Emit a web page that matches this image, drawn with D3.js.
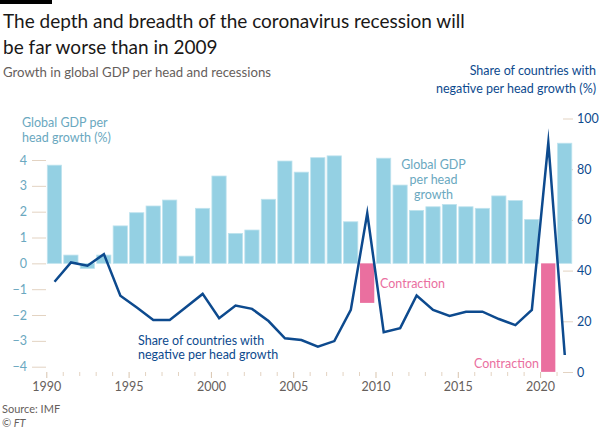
<!DOCTYPE html>
<html>
<head>
<meta charset="utf-8">
<script src="https://cdn.jsdelivr.net/npm/d3@7"></script>
<style>
  html, body { margin: 0; padding: 0; background: #ffffff; }
  svg { display: block; }
  text { font-family: Lato, "Open Sans", sans-serif; }
</style>
</head>
<body>
<svg id="chart" width="600" height="429"></svg>
<script>
// ---- data ----
const years = d3.range(1990, 2022);
const gdpGrowth = [3.8, 0.32, -0.2, 0.32, 1.45, 1.96, 2.22, 2.45, 0.28, 2.13,
                   3.38, 1.16, 1.29, 2.48, 3.96, 3.53, 4.09, 4.16, 1.61, -1.53,
                   4.07, 3.03, 2.05, 2.19, 2.28, 2.19, 2.13, 2.61, 2.43, 1.70,
                   -4.2, 4.65];
const negShare = [35.6, 43.2, 41.9, 46.5, 30.1, 25.4, 20.5, 20.5, 25.6, 30.8,
                  21.2, 26.2, 24.9, 20.1, 13.3, 12.6, 10.0, 12.2, 24.5, 62.6,
                  15.7, 17.3, 30.2, 24.5, 22.1, 23.8, 23.8, 20.9, 18.5, 24.5,
                  90.5, 6.7];
const leftTicks = [-4, -3, -2, -1, 0, 1, 2, 3, 4];
const rightTicks = [0, 20, 40, 60, 80, 100];
const xLabelYears = [1990, 1995, 2000, 2005, 2010, 2015, 2020];

const svg = d3.select("#chart");

// ---- scales ----
const x = d3.scaleLinear().domain([1990, 2022]).range([46.3, 573]);
const yL = d3.scaleLinear().domain([-4, 4]).range([366.7, 160]);
const yR = d3.scaleLinear().domain([0, 100]).range([372, 118.5]);

const tickColor = "#e3d3c2";
const lightBlueText = "#6aa8c0";
const darkBlue = "#0d4a8e";

// ---- header ----
svg.append("rect").attr("x", 0).attr("y", 0).attr("width", 52).attr("height", 4).attr("fill", "#000");
const title = svg.append("text").attr("fill", "#1a1817").attr("font-size", 19);
title.append("tspan").attr("x", 3).attr("y", 28).text("The depth and breadth of the coronavirus recession will");
title.append("tspan").attr("x", 3).attr("y", 54).text("be far worse than in 2009");
svg.append("text").attr("x", 3).attr("y", 77).attr("fill", "#66605c").attr("font-size", 13.2)
  .text("Growth in global GDP per head and recessions");

const rt = svg.append("text").attr("fill", darkBlue).attr("font-size", 12.5).attr("text-anchor", "end");
rt.append("tspan").attr("x", 596).attr("y", 75).text("Share of countries with");
rt.append("tspan").attr("x", 596).attr("y", 93).text("negative per head growth (%)");

const lt = svg.append("text").attr("fill", lightBlueText).attr("font-size", 12.5);
lt.append("tspan").attr("x", 22).attr("y", 127).text("Global GDP per");
lt.append("tspan").attr("x", 22).attr("y", 142).text("head growth (%)");

// ---- axes ----
const gL = svg.append("g").attr("transform", "translate(46,0)")
  .call(d3.axisLeft(yL).tickValues(leftTicks).tickSize(14).tickPadding(5).tickFormat(d3.format("d")));
gL.select(".domain").remove();
gL.selectAll("line").attr("stroke", tickColor);
gL.selectAll("text").attr("fill", lightBlueText).attr("font-size", 12.5).attr("font-family", "Lato, sans-serif");

const gR = svg.append("g").attr("transform", "translate(563,0)")
  .call(d3.axisRight(yR).tickValues(rightTicks).tickSize(10).tickPadding(4));
gR.select(".domain").remove();
gR.selectAll("line").attr("stroke", tickColor);
gR.selectAll("text").attr("fill", darkBlue).attr("font-size", 12.5).attr("font-family", "Lato, sans-serif");

const gX = svg.append("g").attr("transform", "translate(0,372)")
  .call(d3.axisBottom(x).tickValues(years).tickSize(4).tickPadding(6)
    .tickFormat(d => xLabelYears.includes(d) ? String(d) : ""));
gX.select(".domain").remove();
gX.selectAll("line").attr("stroke", tickColor);
gX.selectAll(".tick").filter(d => d % 5 === 0).select("line").attr("y2", 6).attr("stroke", "#d8c4ae");
gX.selectAll("text").attr("fill", "#66605c").attr("font-size", 12.5).attr("font-family", "Lato, sans-serif");

// ---- bars ----
const barData = years.map((yr, i) => ({ year: yr, v: gdpGrowth[i], s: negShare[i] }));
svg.append("g").selectAll("rect").data(barData).join("rect")
  .attr("x", d => x(d.year) + 1)
  .attr("width", d => x(d.year + 1) - x(d.year) - 2.2)
  .attr("y", d => Math.min(yL(0), yL(d.v)))
  .attr("height", d => Math.abs(yL(d.v) - yL(0)))
  .attr("fill", d => d.v < -1 ? "#ea6f9f" : "#94d0e3")
  .attr("stroke", d => d.v < -1 ? "none" : "#bfe3ee")
  .attr("stroke-width", 0.8);

// ---- line ----
const line = d3.line().x(d => x(d.year + 0.5)).y(d => yR(d.s));
svg.append("path").datum(barData).attr("d", line)
  .attr("fill", "none").attr("stroke", darkBlue).attr("stroke-width", 2.5)
  .attr("stroke-linejoin", "miter").attr("stroke-miterlimit", 20);

// ---- annotations ----
const ga = svg.append("text").attr("fill", lightBlueText).attr("font-size", 12.5).attr("text-anchor", "middle");
ga.append("tspan").attr("x", 433.5).attr("y", 169).text("Global GDP");
ga.append("tspan").attr("x", 433.5).attr("y", 184).text("per head");
ga.append("tspan").attr("x", 433.5).attr("y", 199).text("growth");

svg.append("text").attr("x", 380).attr("y", 288).attr("fill", "#ea6f9f").attr("font-size", 12.5)
  .text("Contraction");
svg.append("text").attr("x", 539).attr("y", 368).attr("fill", "#ea6f9f").attr("font-size", 12.5)
  .attr("text-anchor", "end").text("Contraction");

const sh = svg.append("text").attr("fill", darkBlue).attr("font-size", 12.5);
sh.append("tspan").attr("x", 138).attr("y", 345).text("Share of countries with");
sh.append("tspan").attr("x", 138).attr("y", 359).text("negative per head growth");

// ---- footer ----
svg.append("text").attr("x", 2).attr("y", 413).attr("fill", "#66605c").attr("font-size", 11).text("Source: IMF");
svg.append("text").attr("x", 2).attr("y", 427).attr("fill", "#66605c").attr("font-size", 11)
  .attr("font-style", "italic").text("© FT");
</script>
</body>
</html>
